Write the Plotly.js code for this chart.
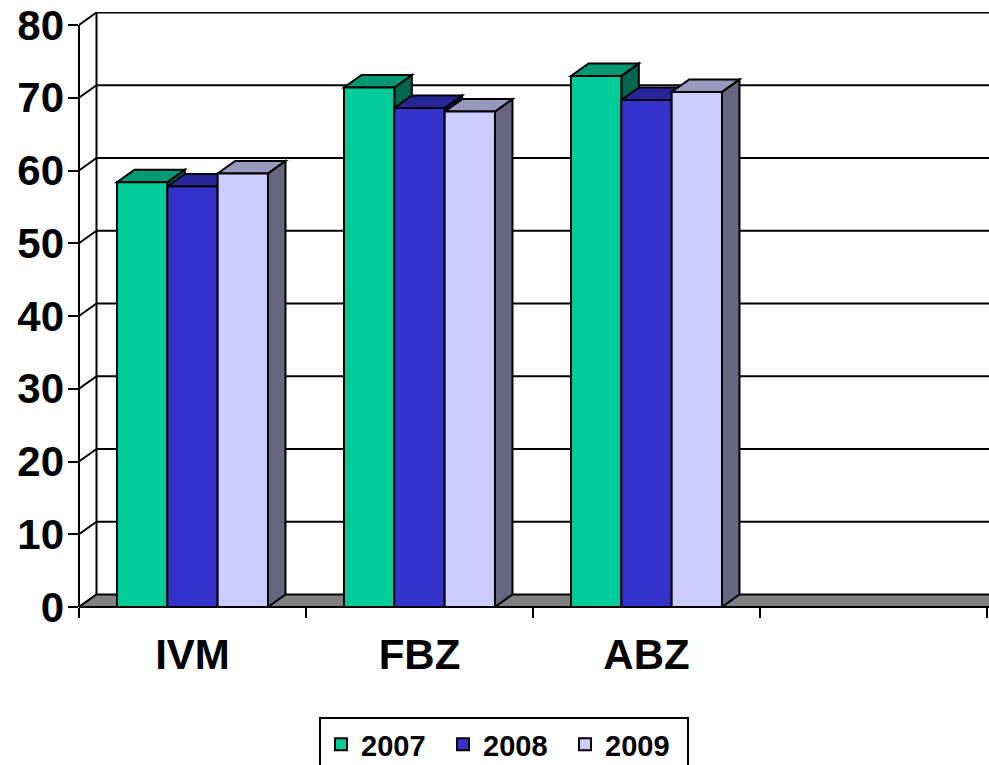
<!DOCTYPE html>
<html>
<head>
<meta charset="utf-8">
<script src="https://cdn.plot.ly/plotly-3.0.1.min.js"></script>
<style>html,body{margin:0;padding:0;background:#fff;overflow:hidden}#chart{width:989px;height:765px}</style>
</head>
<body>
<div id="chart"></div>
<script>
// ---- data ----
const categories = ['IVM', 'FBZ', 'ABZ', ''];
const seriesNames = ['2007', '2008', '2009'];
const v2007 = [58.4, 71.4, 73.0];
const v2008 = [57.8, 68.6, 69.7];
const v2009 = [59.6, 68.1, 70.8];
const yTicks = [0, 10, 20, 30, 40, 50, 60, 70, 80];

// ---- styles ----
const FONT = 'Arial, "Liberation Sans", sans-serif';
const frontColors = ['#00CC99', '#3333CC', '#CCCCFF'];
const topColors   = ['#009973', '#262699', '#9999BF'];
const sideColors  = ['#006650', '#1A1A66', '#666680'];

const W = 989, H = 765;
const mL = 79, mR = 0, mT = 12, mB = 158;
const plotW = W - mL - mR, plotH = H - mT - mB;
const catPx = 227;                       // pixels per category
const xMax = plotW / catPx;
const yPxPerUnit = 7.275;
const yMax = plotH / yPxPerUnit;
const DX = 17.5 / catPx;                 // depth offset in x units
const DY = 12.5 / yPxPerUnit;            // depth offset in y units
const groupW = 0.665;
const barW = groupW / 3;

const allSeries = [v2007, v2008, v2009];
const xPos = allSeries[0].map((_, i) => i + 0.5);

const traces = allSeries.map((vals, s) => ({
  type: 'bar',
  name: seriesNames[s],
  x: xPos,
  y: vals,
  marker: {color: frontColors[s], line: {color: '#000', width: 2}},
  hoverinfo: 'skip'
}));

const shapes = [];
const wallLine = {color: '#000', width: 2};
// back wall grid lines and left wall diagonals
yTicks.forEach(k => {
  if (k > 0) shapes.push({type: 'line', layer: 'below', xref: 'x', yref: 'y',
    x0: DX, y0: k + DY, x1: xMax + 1, y1: k + DY, line: wallLine});
  shapes.push({type: 'line', layer: 'below', xref: 'x', yref: 'y',
    x0: 0, y0: k, x1: DX, y1: k + DY, line: wallLine});
});
// back-left vertical edge
shapes.push({type: 'line', layer: 'below', xref: 'x', yref: 'y',
  x0: DX, y0: DY, x1: DX, y1: 80 + DY, line: wallLine});
// floor
shapes.push({type: 'path', layer: 'below', xref: 'x', yref: 'y',
  path: `M0,0 L${xMax + 1},0 L${xMax + 1},${DY} L${DX},${DY} Z`,
  fillcolor: '#808080', line: wallLine});
// 3D faces of bars
for (let c = 0; c < xPos.length; c++) {
  for (let s = 0; s < allSeries.length; s++) {
    const v = allSeries[s][c];
    const x0 = xPos[c] - groupW / 2 + s * barW;
    const x1 = x0 + barW;
    shapes.push({type: 'path', layer: 'below', xref: 'x', yref: 'y',
      path: `M${x1},0 L${x1 + DX},${DY} L${x1 + DX},${v + DY} L${x1},${v} Z`,
      fillcolor: sideColors[s], line: {color: '#000', width: 2}});
    shapes.push({type: 'path', layer: 'below', xref: 'x', yref: 'y',
      path: `M${x0},${v} L${x1},${v} L${x1 + DX},${v + DY} L${x0 + DX},${v + DY} Z`,
      fillcolor: topColors[s], line: {color: '#000', width: 2}});
  }
}
// front axis lines
shapes.push({type: 'line', layer: 'above', xref: 'paper', yref: 'y',
  x0: 0, x1: 0, y0: 0, y1: 80, line: wallLine});
shapes.push({type: 'line', layer: 'above', xref: 'x', yref: 'paper',
  x0: 0, x1: xMax + 1, y0: 0, y1: 0, line: wallLine});

const layout = {
  width: W, height: H,
  margin: {l: mL, r: mR, t: mT, b: mB, pad: 0, autoexpand: false},
  paper_bgcolor: '#fff', plot_bgcolor: '#fff',
  font: {family: FONT, color: '#000'},
  barmode: 'group', bargap: 1 - groupW, bargroupgap: 0,
  showlegend: true,
  xaxis: {
    type: 'linear', range: [0, xMax], fixedrange: true, automargin: false,
    tickmode: 'array', tickvals: categories.map((_, i) => i + 0.5), ticktext: categories,
    ticks: '', showgrid: false, zeroline: false, showline: false,
    tickfont: {family: FONT, size: 42, color: '#000', weight: 'bold'},
    ticklabelstandoff: 19,
    minor: {tickmode: 'array', tickvals: categories.map((_, i) => i).concat([categories.length]),
      ticks: 'outside', ticklen: 10, tickwidth: 2, tickcolor: '#000', showgrid: false}
  },
  yaxis: {
    range: [0, yMax], fixedrange: true, automargin: false,
    tickmode: 'array', tickvals: yTicks,
    ticks: '', showgrid: false, zeroline: false, showline: false,
    tickfont: {family: FONT, size: 42, color: '#000', weight: 'bold'},
    ticklabelstandoff: 14,
    minor: {tickmode: 'array', tickvals: yTicks,
      ticks: 'outside', ticklen: 10, tickwidth: 2, tickcolor: '#000', showgrid: false}
  },
  legend: {
    orientation: 'h', x: (504 - mL) / plotW, xanchor: 'center',
    y: (607 - 717) / plotH, yanchor: 'top',
    bordercolor: '#000', borderwidth: 2, bgcolor: '#fff',
    font: {family: FONT, size: 29, color: '#000', weight: 'bold'},
    traceorder: 'normal', entrywidth: 77, entrywidthmode: 'pixels'
  },
  shapes: shapes
};

Plotly.newPlot('chart', traces, layout, {staticPlot: true, displayModeBar: false});
</script>
</body>
</html>
